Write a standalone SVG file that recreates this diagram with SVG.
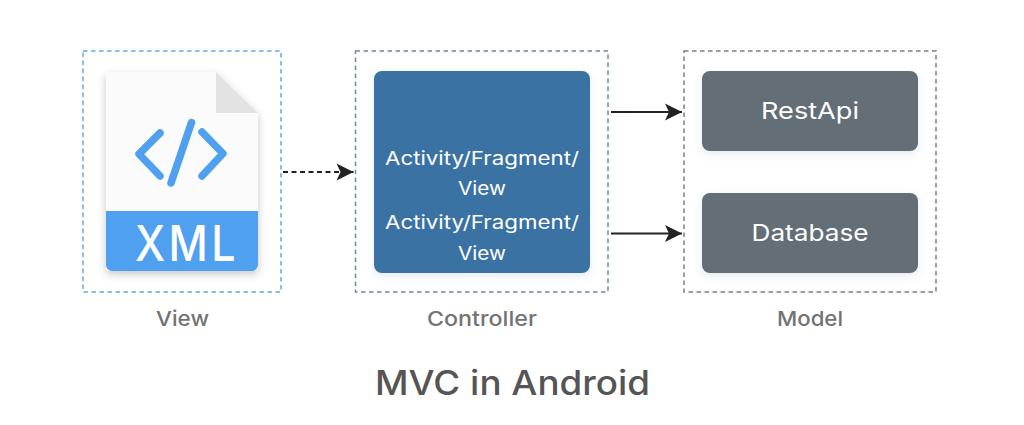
<svg xmlns="http://www.w3.org/2000/svg" width="1024" height="425" viewBox="0 0 1024 425">
<style>
text{font-family:"Inter","Open Sans","Liberation Sans",sans-serif;text-anchor:middle}
.frame{fill:none;stroke-width:1.5;stroke-dasharray:4.5 3.5}
.cap{fill:#737373;font-size:20.5px;font-weight:500}
.wt{fill:#fff;font-size:18.5px;font-weight:400}
.big{fill:#fff;font-size:23px;font-weight:400}
.conn{fill:none;stroke:#222;stroke-width:2}
.ico{fill:none;stroke:#4fa0ee;stroke-width:7.5;stroke-linecap:round;stroke-linejoin:round}
</style>
<defs>
<filter id="s1" x="-20%" y="-20%" width="140%" height="140%"><feDropShadow dx="0" dy="3" stdDeviation="4" flood-color="#000" flood-opacity=".22"/></filter>
<filter id="s2" x="-10%" y="-10%" width="120%" height="130%"><feDropShadow dx="0" dy="3" stdDeviation="4" flood-color="#3b72a4" flood-opacity=".14"/></filter>
<marker id="ah" markerUnits="userSpaceOnUse" markerWidth="18" markerHeight="18" refX="17" refY="9" orient="auto"><path d="M0 0.500L17 9L0 17.500L4 9Z" fill="#222"/></marker>
</defs>
<rect width="1024" height="425" fill="#fff"/>
<g id="view">
<rect class="frame" x="83" y="51" width="198" height="241" stroke="#62a8e6"/>
<path d="M106 76a4 4 0 0 1 4-4H216L258 113V267a4 4 0 0 1-4 4H110a4 4 0 0 1-4-4Z" fill="#fbfbfb" filter="url(#s1)"/>
<path d="M216 72L258 113H216Z" fill="#e3e3e3"/>
<path d="M106 211H258V265a6 6 0 0 1-6 6H112a6 6 0 0 1-6-6Z" fill="#4fa0ee"/>
<path class="ico" d="M160 133L139 154L160 176M191.500 122.500L171 183M202 132L223 153.500L202 176"/>
<text x="187" y="261" textLength="104" lengthAdjust="spacingAndGlyphs" style="fill:#fff;font-size:50px;font-weight:500;letter-spacing:4px">XML</text>
<text class="cap" x="182.500" y="326" textLength="53" lengthAdjust="spacingAndGlyphs">View</text>
</g>
<g id="controller">
<rect class="frame" x="355.500" y="51" width="252.500" height="241" stroke="#6f8a9e"/>
<rect x="374" y="71" width="216" height="202" rx="8" fill="#3b72a4" filter="url(#s2)"/>
<text class="wt" x="482" y="165" textLength="194" lengthAdjust="spacingAndGlyphs">Activity/Fragment/</text>
<text class="wt" x="482" y="195" textLength="48" lengthAdjust="spacingAndGlyphs">View</text>
<text class="wt" x="482" y="229" textLength="194" lengthAdjust="spacingAndGlyphs">Activity/Fragment/</text>
<text class="wt" x="482" y="260" textLength="48" lengthAdjust="spacingAndGlyphs">View</text>
<text class="cap" x="482" y="326" textLength="110" lengthAdjust="spacingAndGlyphs">Controller</text>
</g>
<g id="model">
<rect class="frame" x="684" y="51" width="252" height="241" stroke="#7d7d7d"/>
<text class="cap" x="810" y="326" textLength="66" lengthAdjust="spacingAndGlyphs">Model</text>
</g>
<g id="restapi">
<rect x="702" y="71" width="216" height="80" rx="8" fill="#636e76" filter="url(#s2)"/>
<text class="big" x="810" y="119" textLength="98" lengthAdjust="spacingAndGlyphs">RestApi</text>
</g>
<g id="database">
<rect x="702" y="193" width="216" height="80" rx="8" fill="#636e76" filter="url(#s2)"/>
<text class="big" x="810" y="241" textLength="117" lengthAdjust="spacingAndGlyphs">Database</text>
</g>
<g id="connectors">
<path class="conn" stroke-dasharray="5 3.500" d="M283 172H353.500" marker-end="url(#ah)"/>
<path class="conn" d="M611 112H682" marker-end="url(#ah)"/>
<path class="conn" d="M611 233.500H682" marker-end="url(#ah)"/>
</g>
<text x="512.500" y="395" textLength="275" lengthAdjust="spacingAndGlyphs" style="fill:#555;font-size:34px;font-weight:500">MVC in Android</text>
</svg>
